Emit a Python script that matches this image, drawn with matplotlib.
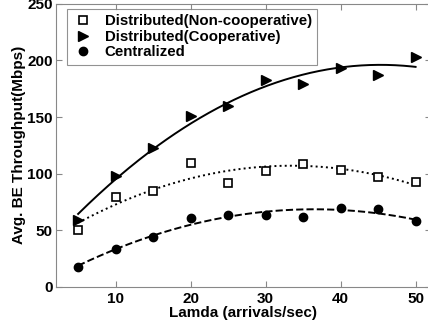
import numpy as np
import matplotlib
matplotlib.use("Agg")
import matplotlib.pyplot as plt

plt.rcParams['font.family'] = ['Liberation Sans', 'DejaVu Sans']
plt.rcParams['font.weight'] = 'bold'

lam = [5, 10, 15, 20, 25, 30, 35, 40, 45, 50]
non_coop = [50, 79, 85, 109, 92, 102.7, 108.6, 103.5, 96.8, 92.6]
coop = [59, 98, 123, 151, 160, 183, 179, 193.5, 187.6, 203]
central = [17.7, 33, 44, 60.5, 63.7, 63.4, 61.7, 70, 68.8, 57.9]
labels = ['Distributed(Non-cooperative)', 'Distributed(Cooperative)', 'Centralized']
xticks = [10, 20, 30, 40, 50]
yticks = [0, 50, 100, 150, 200, 250]

fig = plt.figure(figsize=(4.28, 3.27), dpi=100)
ax = fig.add_axes([0.130, 0.123, 0.876, 0.865])

xs = np.linspace(5, 50, 200)
lam_a = np.array(lam)
for ys, ls in [(coop, '-'), (non_coop, ':'), (central, '--')]:
    p = np.polyfit(lam_a, np.array(ys), 2)
    ax.plot(xs, np.polyval(p, xs), color='black', linestyle=ls, linewidth=1.4)

h1, = ax.plot(lam, non_coop, 's', mfc='white', mec='black', mew=1.2, ms=5.5, linestyle='none')
h2, = ax.plot(lam, coop, '>', color='black', ms=7, linestyle='none')
h3, = ax.plot(lam, central, 'o', color='black', ms=6, linestyle='none')

leg = ax.legend([h1, h2, h3], labels, loc='upper left', bbox_to_anchor=(0.015, 1.0),
                fontsize=10.8, frameon=True, fancybox=False, handletextpad=0.7,
                handlelength=1.5, borderpad=0.35, labelspacing=0.1, borderaxespad=0.35)
leg.get_frame().set_edgecolor('#777777')
leg.get_frame().set_linewidth(0.8)

ax.set_xlim(2, 52)
ax.set_ylim(0, 250)
ax.set_xticks(xticks)
ax.set_yticks(yticks)
ax.tick_params(direction='in', top=True, right=True, labelsize=11, length=4, color='#888888')
ax.tick_params(axis='y', pad=2)
for s in ax.spines.values():
    s.set_color('#888888')
    s.set_linewidth(0.8)
ax.set_xlabel('Lamda (arrivals/sec)', fontsize=11, fontweight='bold', labelpad=0)
ax.set_ylabel('Avg. BE Throughput(Mbps)', fontsize=11, fontweight='bold', labelpad=1)

fig.savefig('out.png', dpi=100)
